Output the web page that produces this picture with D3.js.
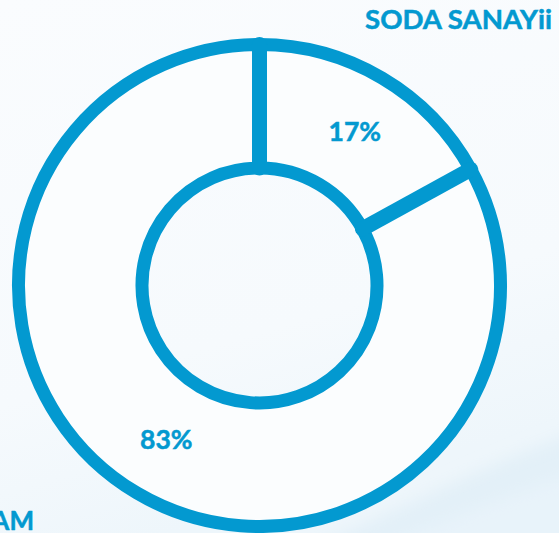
<!DOCTYPE html>
<html><head><meta charset="utf-8">
<script src="https://cdn.jsdelivr.net/npm/d3@7"></script>
<style>html,body{margin:0;padding:0;background:#f8fbfd;overflow:hidden}</style>
</head><body>
<script>
const categories = ["SODA SANAYii", "TOPLAM"];
const values = [17, 83];
const valueLabels = ["17%", "83%"];

const W = 559, H = 533;
const cx = 259.5, cy = 285.5, rOuter = 241, rInner = 117.5;
const blue = "#0399d0";
const font = "Lato, 'Open Sans', sans-serif";

const svg = d3.select("body").append("svg").attr("width", W).attr("height", H);
const defs = svg.append("defs");
const bg = defs.append("linearGradient").attr("id","bg").attr("x1","0").attr("y1","0").attr("x2","0.3").attr("y2","1");
bg.append("stop").attr("offset","0").attr("stop-color","#fafcfe");
bg.append("stop").attr("offset","0.7").attr("stop-color","#f6fafd");
bg.append("stop").attr("offset","1").attr("stop-color","#eef6fb");
svg.append("rect").attr("width",W).attr("height",H).attr("fill","url(#bg)");
const blur = defs.append("filter").attr("id","soft").attr("x","-20%").attr("y","-20%").attr("width","140%").attr("height","140%");
blur.append("feGaussianBlur").attr("stdDeviation", 8);
svg.append("path").attr("d","M280,560 C380,520 470,470 580,430 L580,560 Z").attr("fill","#e3f0f8").attr("filter","url(#soft)");
svg.append("path").attr("d","M360,560 C440,520 500,500 580,470 L580,560 Z").attr("fill","#e8f3fa").attr("filter","url(#soft)");

const pie = d3.pie().sort(null).value(d => d);
const arcs = pie(values);
const arc = d3.arc().innerRadius(rInner).outerRadius(rOuter);

const g = svg.append("g").attr("transform", `translate(${cx},${cy})`);
g.selectAll("path.slice").data(arcs).join("path").attr("class","slice")
  .attr("d", arc).attr("fill", "#fbfdfe").attr("stroke", blue)
  .attr("stroke-width", 13).attr("stroke-linejoin","round");

// thicker dividers at slice boundaries
const angleScale = d3.scaleLinear().domain([0, d3.sum(values)]).range([0, 2*Math.PI]);
const bounds = [0, values[0]];
g.selectAll("line.div").data(bounds).join("line").attr("class","div")
  .attr("x1", d => rInner*Math.sin(angleScale(d))).attr("y1", d => -rInner*Math.cos(angleScale(d)))
  .attr("x2", d => rOuter*Math.sin(angleScale(d))).attr("y2", d => -rOuter*Math.cos(angleScale(d)))
  .attr("stroke", blue).attr("stroke-width", 15).attr("stroke-linecap","round");

const labelArc = d3.arc().innerRadius((rInner+rOuter)/2).outerRadius((rInner+rOuter)/2);
g.selectAll("text.pct").data(arcs).join("text").attr("class","pct")
  .attr("transform", d => { const c = labelArc.centroid(d); return `translate(${c[0]+ (d.index===0?4:-2)},${c[1]+9.5})`; })
  .attr("text-anchor","middle").attr("font-family", font)
  .attr("font-weight","bold").attr("font-size", 26.5).attr("fill", blue)
  .attr("stroke", blue).attr("stroke-width", 0.5)
  .text((d,i) => valueLabels[i]);

svg.append("text").attr("x", 552).attr("y", 29).attr("text-anchor","end")
  .attr("font-family", font).attr("font-weight","bold")
  .attr("font-size", 26).attr("fill", blue).attr("stroke", blue).attr("stroke-width", 0.5)
  .attr("textLength", 187).attr("lengthAdjust","spacingAndGlyphs")
  .text(categories[0]);
svg.append("text").attr("x", 34).attr("y", 530).attr("text-anchor","end")
  .attr("font-family", font).attr("font-weight","bold")
  .attr("font-size", 26).attr("fill", blue).attr("stroke", blue).attr("stroke-width", 0.5)
  .text(categories[1]);
</script>
</body></html>
